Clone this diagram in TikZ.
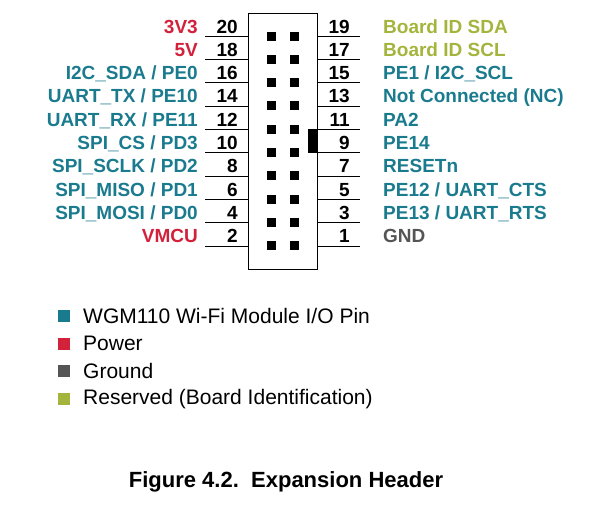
\documentclass[tikz,border=0pt]{standalone}
\usepackage{fontspec}
\setmainfont{Liberation Sans}
\begin{document}
\begin{tikzpicture}[x=1pt,y=-1pt,
 lab/.style={font=\bfseries\fontsize{19}{19}\selectfont,inner sep=0pt},
 num/.style={font=\bfseries\fontsize{19}{19}\selectfont,inner sep=0pt},
 pin/.style={fill=black,minimum size=9pt,inner sep=0pt},
 leg/.style={font=\fontsize{21}{21}\selectfont,anchor=west,inner sep=0pt}]
\definecolor{io}{HTML}{1B7B8E}\definecolor{pw}{HTML}{D2213A}
\definecolor{gd}{HTML}{555555}\definecolor{rs}{HTML}{A5B43C}
\useasboundingbox (0,0) rectangle (612,515);
\draw (248,13) rectangle (317,269);
\fill (308,129) rectangle (317,153);
\foreach \i/\l/\cl/\j/\rt/\cr [count=\k from 0] in {
 20/3V3/pw/19/Board ID SDA/rs, 18/5V/pw/17/Board ID SCL/rs,
 16/{I2C\_SDA / PE0}/io/15/{PE1 / I2C\_SCL}/io,
 14/{UART\_TX / PE10}/io/13/Not Connected (NC)/io,
 12/{UART\_RX / PE11}/io/11/PA2/io,
 10/{SPI\_CS / PD3}/io/9/PE14/io,
 8/{SPI\_SCLK / PD2}/io/7/RESETn/io,
 6/{SPI\_MISO / PD1}/io/5/{PE12 / UART\_CTS}/io,
 4/{SPI\_MOSI / PD0}/io/3/{PE13 / UART\_RTS}/io,
 2/VMCU/pw/1/GND/gd}{
 \pgfmathsetmacro\y{36+23.3*\k}
 \draw (205,\y) coordinate (a\i) -- (248,\y);
 \draw (317,\y) -- (360,\y) coordinate (b\j);
 \node[pin] (p\i) at (271,\y) {};
 \node[pin] (p\j) at (294,\y) {};
 \node[num,anchor=base east] (n\i) at (238,\y-3) {\i};
 \node[num,anchor=base east] (n\j) at (350,\y-3) {\j};
 \node[lab,anchor=base east,text=\cl] (l\i) at (198,\y-3) {\l};
 \node[lab,anchor=base west,text=\cr] (r\j) at (383,\y-3) {\rt};
}
\foreach \c/\t [count=\k from 0] in {io/{WGM110 Wi-Fi Module I/O Pin}, pw/Power, gd/Ground, rs/Reserved (Board Identification)}{
 \pgfmathsetmacro\y{316+27.7*\k}
 \fill[\c] (58,\y-6) rectangle (70,\y+6);
 \node[leg] (g\k) at (83,\y) {\t};
}
\node[font=\bfseries\fontsize{22}{22}\selectfont] (cap) at (286,482) {Figure 4.2.\ \ Expansion Header};
\end{tikzpicture}
\end{document}
